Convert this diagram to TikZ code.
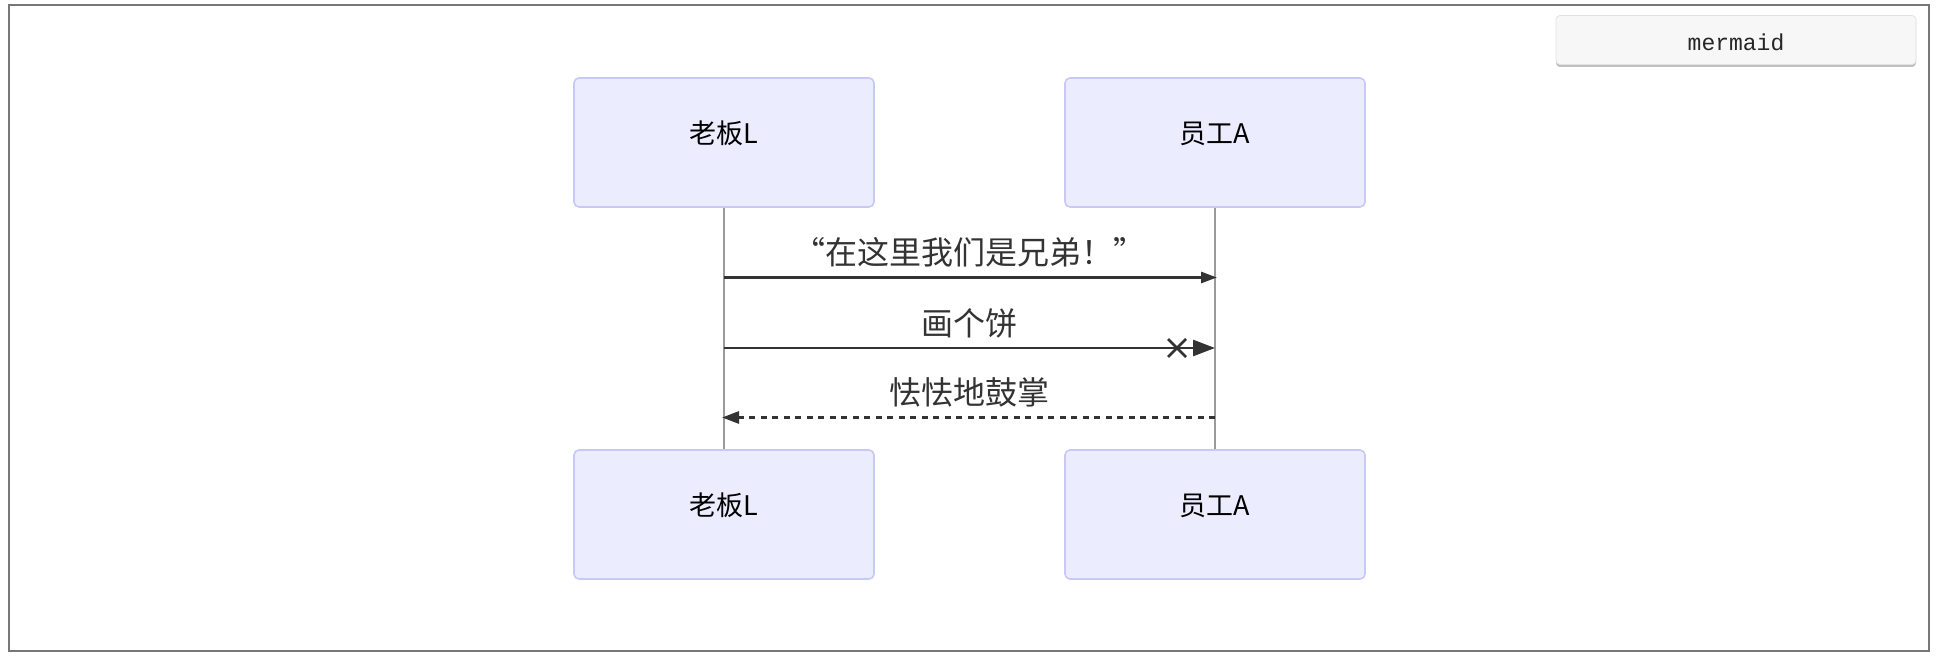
\documentclass[tikz,border=0pt]{standalone}
\usepackage{fontspec}
\setmainfont{Noto Sans CJK SC}
\newfontfamily\monofont{Liberation Mono}
\usetikzlibrary{arrows.meta}
\definecolor{actfill}{HTML}{ECECFF}
\definecolor{actline}{HTML}{C9C9F5}
\definecolor{msgcol}{HTML}{333333}
\definecolor{lifecol}{HTML}{9A9A9A}
\definecolor{framecol}{HTML}{777777}
\definecolor{btnfill}{HTML}{F7F7F7}
\definecolor{btnline}{HTML}{E2E2E2}
\tikzset{
  actor/.style={draw=actline, fill=actfill, line width=1.6pt, rounded corners=5pt,
    minimum width=300pt, minimum height=129pt, inner sep=0pt},
  actortext/.style={font=\fontsize{27}{30}\selectfont, text=black, inner sep=0pt, yshift=9pt},
  lifeline/.style={draw=lifecol, line width=1.2pt},
  msg/.style={draw=msgcol, line width=2.7pt},
  msglabel/.style={font=\fontsize{32}{36}\selectfont, text=msgcol, inner sep=0pt},
  dashmsg/.style={msg, dash pattern=on 6pt off 5.5pt},
}
\begin{document}
\begin{tikzpicture}[x=1pt,y=-1pt]
\useasboundingbox (0,0) rectangle (1944,660);
\fill[white] (0,0) rectangle (1944,660);
% outer frame
\draw[framecol, line width=2pt] (9,5) rectangle (1929,651);
% mermaid button
\fill[black!25, rounded corners=4pt] (1556,17) rectangle (1916,67);
\node[draw=btnline, fill=btnfill, rounded corners=4pt, line width=0.8pt,
  minimum width=360pt, minimum height=49pt, inner sep=0pt,
  font=\monofont\fontsize{23}{26}\selectfont, text=black!85] (btn) at (1736,40) {};
\node[font=\monofont\fontsize{23}{26}\selectfont, text=black!85, inner sep=0pt]
  (btntext) at (1736,42) {mermaid};
% actors
\node[actor, label={[actortext]center:老板L}] (bossT) at (724,142.5) {};
\node[actor, label={[actortext]center:员工A}] (empT) at (1215,142.5) {};
\node[actor, label={[actortext]center:老板L}] (bossB) at (724,514.5) {};
\node[actor, label={[actortext]center:员工A}] (empB) at (1215,514.5) {};
% lifelines
\draw[lifeline] (bossT.south) -- (bossB.north);
\draw[lifeline] (empT.south) -- (empB.north);
% message coordinates
\coordinate (b1) at (bossT.south |- 0,277.5);
\coordinate (e1) at ([xshift=2pt]empT.south |- 0,277.5);
\coordinate (b2) at (bossT.south |- 0,348);
\coordinate (e2) at (empT.south |- 0,348);
\coordinate (b3) at ([xshift=-2pt]bossT.south |- 0,417.5);
\coordinate (e3) at (empT.south |- 0,417.5);
\coordinate (x2) at (1177,348);
% message 1
\draw[msg, -{Triangle[length=16pt,width=11pt]}] (b1) -- (e1);
\node[msglabel] (l1) at (969.5,252) {“在这里我们是兄弟！”};
% message 2
\draw[msg, -{Triangle[length=22pt,width=16pt]}] (b2) -- (e2);
\draw[msgcol, line width=2.7pt] ([shift={(-9,-9)}]x2) -- ([shift={(9,9)}]x2)
  ([shift={(-9,9)}]x2) -- ([shift={(9,-9)}]x2);
\node[msglabel] (l2) at (969.5,323.5) {画个饼};
% message 3
\draw[dashmsg, -{Triangle[length=17pt,width=12pt,sep=0pt]}] (e3) -- (b3);
\node[msglabel] (l3) at (969.5,392) {怯怯地鼓掌};
\end{tikzpicture}
\end{document}
